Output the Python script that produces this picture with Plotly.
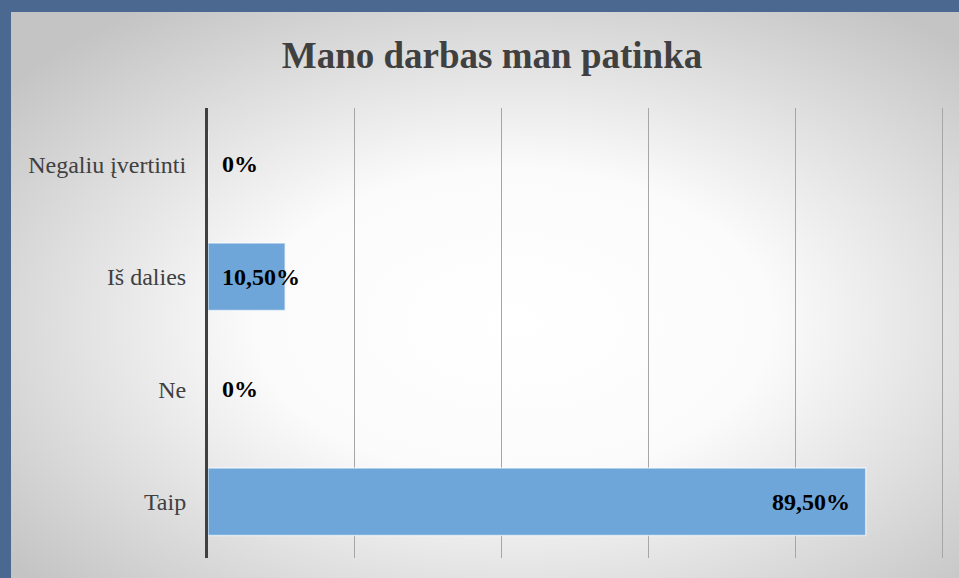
import base64
import plotly.graph_objects as go

# data, top to bottom as shown
categories = ["Negaliu įvertinti", "Iš dalies", "Ne", "Taip"]
values = [0, 10.5, 0, 89.5]
x_ticks = [0, 20, 40, 60, 80, 100]

SERIF = "Liberation Serif"
FRAME = "#4a6890"
BAR = "#6fa6d9"


def fmt(v):
    if v == 0:
        return "0%"
    return f"{v:.2f}".replace(".", ",") + "%"


# radial grey-to-white backdrop of the inner panel
svg = (
    '<svg xmlns="http://www.w3.org/2000/svg" width="948" height="566" '
    'preserveAspectRatio="none">'
    '<defs><radialGradient id="g" cx="53%" cy="55%" r="68%">'
    '<stop offset="0" stop-color="#ffffff"/>'
    '<stop offset="0.4" stop-color="#fbfbfb"/>'
    '<stop offset="1" stop-color="#c4c4c4"/>'
    '</radialGradient></defs>'
    '<rect width="948" height="566" fill="url(#g)"/></svg>'
)
bg_src = "data:image/svg+xml;base64," + base64.b64encode(svg.encode()).decode()

fig = go.Figure()
fig.add_trace(
    go.Bar(
        y=categories,
        x=values,
        orientation="h",
        marker=dict(color=BAR, line=dict(color="rgba(255,255,255,0.6)", width=1.5)),
        width=0.6,
        hoverinfo="skip",
    )
)

# data labels: at the base for short bars, inside the end for long ones
annotations = []
for cat, v in zip(categories, values):
    if v > 50:
        annotations.append(dict(x=v, y=cat, text=fmt(v), xanchor="right", xshift=-14,
                                showarrow=False))
    else:
        annotations.append(dict(x=0, y=cat, text=fmt(v), xanchor="left", xshift=12,
                                showarrow=False))
for a in annotations:
    a["font"] = dict(family=SERIF, size=24, color="#000000", weight="bold")

# plot area: x 208..944, y 108..558
pw, ph = 736, 450
fig.update_layout(
    width=959,
    height=578,
    margin=dict(l=208, r=15, t=108, b=20),
    paper_bgcolor=FRAME,
    plot_bgcolor="rgba(0,0,0,0)",
    showlegend=False,
    title=dict(
        text="<b>Mano darbas man patinka</b>",
        x=(492) / 959,
        xanchor="center",
        y=1 - 55 / 578,
        yanchor="middle",
        font=dict(family=SERIF, size=37, color="#404040"),
    ),
    images=[
        dict(
            source=bg_src,
            xref="paper",
            yref="paper",
            x=(11 - 208) / pw,
            y=1 + (108 - 12) / ph,
            sizex=948 / pw,
            sizey=566 / ph,
            sizing="stretch",
            xanchor="left",
            yanchor="top",
            layer="below",
        )
    ],
    annotations=annotations,
    xaxis=dict(
        range=[0, 100.15],
        tickvals=x_ticks,
        showticklabels=False,
        showgrid=True,
        gridcolor="#a6a6a6",
        gridwidth=1,
        zeroline=False,
        showline=False,
    ),
    yaxis=dict(
        autorange="reversed",
        showline=True,
        linecolor="#404040",
        linewidth=3,
        showgrid=False,
        ticks="",
        ticklabelstandoff=14,
        tickfont=dict(family=SERIF, size=24, color="#404040"),
    ),
)

fig.write_html(
    "out.html",
    config={"displayModeBar": False},
    post_script="document.body.style.margin='0';document.body.style.overflow='hidden';",
)
